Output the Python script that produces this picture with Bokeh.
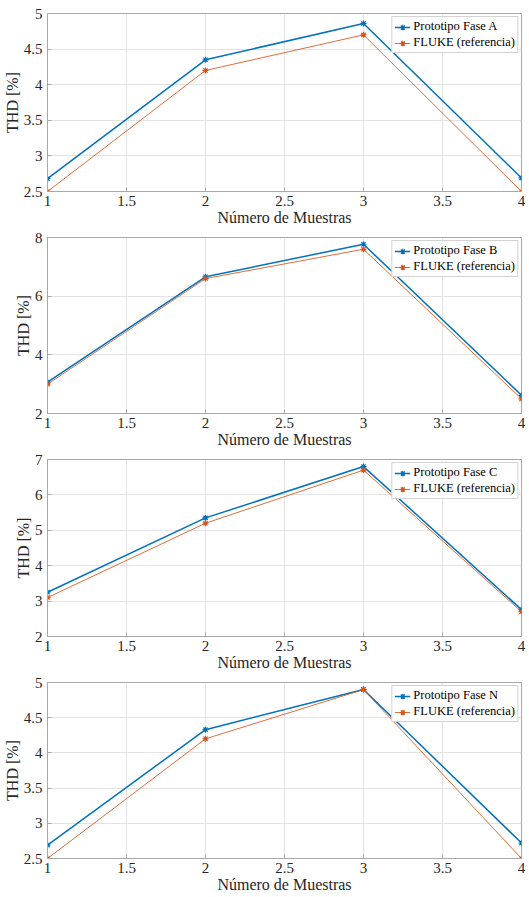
from bokeh.plotting import figure
from bokeh.layouts import column
from bokeh.models import Range1d, FixedTicker, Legend, LegendItem, CustomJSTickFormatter
from bokeh.embed import file_html
from bokeh.resources import INLINE

# ---- data ----
muestras = [1, 2, 3, 4]
proto_A = [2.68, 4.35, 4.86, 2.69]
fluke_A = [2.50, 4.20, 4.70, 2.50]
proto_B = [3.07, 6.66, 7.77, 2.62]
fluke_B = [3.00, 6.60, 7.60, 2.50]
proto_C = [3.25, 5.35, 6.80, 2.76]
fluke_C = [3.10, 5.20, 6.70, 2.70]
proto_N = [2.69, 4.33, 4.90, 2.72]
fluke_N = [2.50, 4.20, 4.90, 2.50]

labels_proto = ["Prototipo Fase A", "Prototipo Fase B", "Prototipo Fase C", "Prototipo Fase N"]
label_fluke = "FLUKE (referencia)"
x_label = "Número de Muestras"
y_label = "THD [%]"

x_ticks = [1, 1.5, 2, 2.5, 3, 3.5, 4]
x_tick_labels = ["1", "1.5", "2", "2.5", "3", "3.5", "4"]
y_ticks_A = [2.5, 3, 3.5, 4, 4.5, 5]
y_tick_labels_A = ["2.5", "3", "3.5", "4", "4.5", "5"]
y_ticks_B = [2, 4, 6, 8]
y_tick_labels_B = ["2", "4", "6", "8"]
y_ticks_C = [2, 3, 4, 5, 6, 7]
y_tick_labels_C = ["2", "3", "4", "5", "6", "7"]
y_ticks_N = [2.5, 3, 3.5, 4, 4.5, 5]
y_tick_labels_N = ["2.5", "3", "3.5", "4", "4.5", "5"]

BLUE = "#0072BD"
ORANGE = "#D95319"
FONT = "Liberation Serif"
TXT = "#262626"
GRAYLINE = "#a8a8a8"

JS = """
for (let i = 0; i < tvals.length; i++) {
  if (Math.abs(tvals[i] - tick) < 1e-9) { return tlabs[i]; }
}
return '';
"""

# (proto, fluke, legend label, yticks, ytick labels, fig height, top border, bottom border)
panels = [
    (proto_A, fluke_A, labels_proto[0], y_ticks_A, y_tick_labels_A, 228, 13, 37),
    (proto_B, fluke_B, labels_proto[1], y_ticks_B, y_tick_labels_B, 222, 9, 37),
    (proto_C, fluke_C, labels_proto[2], y_ticks_C, y_tick_labels_C, 223, 9, 37),
    (proto_N, fluke_N, labels_proto[3], y_ticks_N, y_tick_labels_N, 224, 9, 39),
]

figs = []
for proto, fluke, lab, yt, ytl, h, bt, bb in panels:
    p = figure(width=529, height=h, output_backend="svg", toolbar_location=None,
               x_range=Range1d(1, 4), y_range=Range1d(yt[0], yt[-1]),
               min_border_left=47, min_border_right=8, min_border_top=bt,
               min_border_bottom=bb)
    p.outline_line_color = GRAYLINE
    p.outline_line_width = 1
    p.background_fill_color = "white"
    p.border_fill_color = "white"

    for ax in (p.xaxis[0], p.yaxis[0]):
        ax.axis_line_color = GRAYLINE
        ax.major_tick_line_color = GRAYLINE
        ax.major_tick_in = 4
        ax.major_tick_out = 0
        ax.minor_tick_line_color = None
        ax.major_label_text_font = FONT
        ax.major_label_text_font_size = "15px"
        ax.major_label_text_color = TXT
        ax.axis_label_text_font = FONT
        ax.axis_label_text_font_size = "16px"
        ax.axis_label_text_font_style = "normal"
        ax.axis_label_text_color = TXT
        ax.axis_label_standoff = 0

    p.xaxis[0].major_label_standoff = 4
    p.yaxis[0].major_label_standoff = 5

    p.xaxis.ticker = FixedTicker(ticks=x_ticks)
    p.xaxis.formatter = CustomJSTickFormatter(args=dict(tvals=x_ticks, tlabs=x_tick_labels), code=JS)
    p.yaxis.ticker = FixedTicker(ticks=yt)
    p.yaxis.formatter = CustomJSTickFormatter(args=dict(tvals=yt, tlabs=ytl), code=JS)
    p.xaxis.axis_label = x_label
    p.yaxis.axis_label = y_label

    p.xgrid.grid_line_color = "#e3e3e3"
    p.ygrid.grid_line_color = "#e3e3e3"

    l1 = p.line(muestras, proto, line_color=BLUE, line_width=1.5)
    s1 = p.scatter(muestras, proto, marker="asterisk", size=6, line_color=BLUE, line_width=1.2)
    l2 = p.line(muestras, fluke, line_color=ORANGE, line_width=1, line_alpha=0.85)
    s2 = p.scatter(muestras, fluke, marker="asterisk", size=6, line_color=ORANGE, line_width=1.2)

    legend = Legend(items=[LegendItem(label=lab, renderers=[l1, s1]),
                           LegendItem(label=label_fluke, renderers=[l2, s2])],
                    location="top_right")
    legend.label_text_font = FONT
    legend.label_text_font_size = "12.5px"
    legend.label_text_color = "black"
    legend.label_height = 14
    legend.glyph_height = 14
    legend.glyph_width = 16
    legend.label_standoff = 3
    legend.spacing = 1
    legend.padding = 2
    legend.margin = 3
    legend.border_line_color = GRAYLINE
    legend.border_line_width = 1
    legend.background_fill_color = "white"
    legend.background_fill_alpha = 1
    p.add_layout(legend, "center")

    figs.append(p)

layout = column(*figs, spacing=0)
open("out.html", "w").write(file_html(layout, INLINE))
